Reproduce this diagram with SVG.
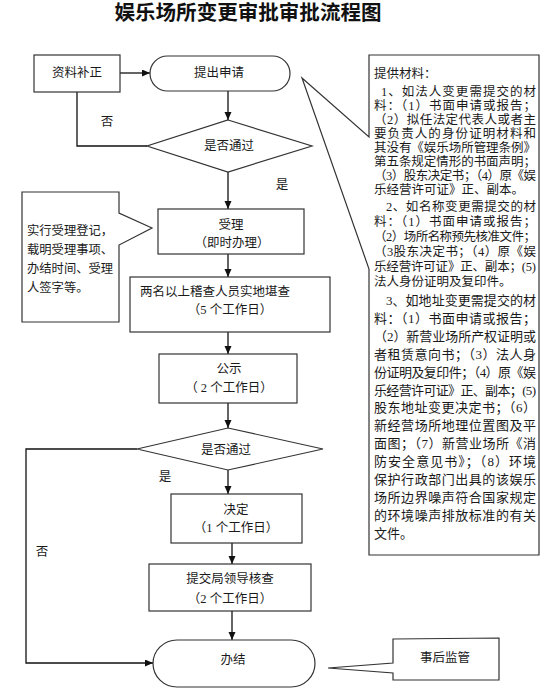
<svg xmlns="http://www.w3.org/2000/svg" width="555" height="692" viewBox="0 0 555 692">
<defs>
<marker id="arr" markerWidth="9" markerHeight="8" refX="8" refY="3.5" orient="auto" markerUnits="userSpaceOnUse">
<path d="M0,0 L8,3.5 L0,7 z" fill="#111"/>
</marker>
</defs>
<style>
.box{fill:#fff;stroke:#333;stroke-width:1.2}
.ln{fill:none;stroke:#111;stroke-width:1.3}
.ar{marker-end:url(#arr)}
text{font-family:"Liberation Serif","Noto Sans CJK SC",serif;fill:#1a1a1a;dominant-baseline:central}
.t{font-size:12.5px;text-anchor:middle}
.l{font-size:12.5px}
.l3{font-size:13px}
.m{font-size:12.3px}
.title{font-size:20.5px;font-weight:bold;text-anchor:middle;fill:#111}
</style>
<rect width="555" height="692" fill="#fff"/>
<text class="title" x="248" y="13" textLength="267" lengthAdjust="spacingAndGlyphs">娱乐场所变更审批审批流程图</text>

<g id="connectors">
<path class="ln ar" d="M120,73 H150"/>
<path class="ln ar" d="M228,91 V120"/>
<path class="ln" d="M77,92 V146 H147"/>
<path class="ln ar" d="M228,172 V209"/>
<path class="ln ar" d="M228,254 V277"/>
<path class="ln ar" d="M228,332 V354"/>
<path class="ln ar" d="M228,403 V428"/>
<path class="ln ar" d="M228,470 V494"/>
<path class="ln ar" d="M232,543 V564"/>
<path class="ln ar" d="M232,611 V640"/>
<path class="ln ar" d="M137,449 H26 V663 H153"/>
<text class="t" x="107" y="122">否</text>
<text class="t" x="282" y="185">是</text>
<text class="t" x="165" y="477">是</text>
<text class="t" x="42" y="552">否</text>
</g>

<g id="n-supplement">
<rect class="box" x="34" y="55" width="86" height="37"/>
<text class="t" x="77" y="73">资料补正</text>
</g>
<g id="n-apply">
<rect class="box" x="150" y="56" width="140" height="35" rx="17.5"/>
<text class="t" x="219" y="73">提出申请</text>
</g>
<g id="n-check1">
<polygon class="box" points="228,120 312,146 228,172 147,146"/>
<text class="t" x="229" y="146">是否通过</text>
</g>
<g id="n-accept">
<rect class="box" x="158" y="209" width="146" height="45"/>
<text class="t" x="231" y="225">受理</text>
<text class="t" x="232" y="243">（即时办理）</text>
</g>
<g id="n-note-accept">
<polygon class="box" points="22,192 119,192 119,213 152,228 119,245 119,322 22,322"/>
<text class="m" x="27" y="231">实行受理登记，</text>
<text class="m" x="27" y="250">载明受理事项、</text>
<text class="m" x="27" y="269">办结时间、受理</text>
<text class="m" x="27" y="288">人签字等。</text>
</g>
<g id="n-inspect">
<rect class="box" x="130" y="277" width="200" height="55"/>
<text class="l" x="140" y="292">两名以上稽查人员实地堪查</text>
<text class="t" x="230" y="310">（5 个工作日）</text>
</g>
<g id="n-publish">
<rect class="box" x="159" y="354" width="138" height="49"/>
<text class="t" x="229" y="369">公示</text>
<text class="t" x="229" y="388">（  2 个工作日）</text>
</g>
<g id="n-check2">
<polygon class="box" points="228,428 323,449 228,470 137,449"/>
<text class="t" x="226" y="450">是否通过</text>
</g>
<g id="n-decide">
<rect class="box" x="171" y="494" width="131" height="49"/>
<text class="t" x="236" y="510">决定</text>
<text class="t" x="236" y="528">（1 个工作日）</text>
</g>
<g id="n-review">
<rect class="box" x="149" y="564" width="162" height="47"/>
<text class="t" x="230" y="579">提交局领导核查</text>
<text class="t" x="230" y="599">（2 个工作日）</text>
</g>
<g id="n-finish">
<rect class="box" x="153" y="640" width="162" height="47" rx="24" ry="23.5"/>
<text class="t" x="233" y="660">办结</text>
</g>
<g id="n-supervise">
<polygon class="box" points="393,639 499,638 499,680 393,680 393,673 328,668 393,663"/>
<text class="t" x="445" y="658">事后监管</text>
</g>
<g id="n-materials">
<polygon class="box" points="369,55 539,55 539,555 369,555 369,269 302,78 369,137"/>
<g class="l">
<text x="374" y="74">提供材料：</text>
<text x="381" y="92" textLength="155">1、如法人变更需提交的材</text>
<text x="374" y="106" textLength="162">料：（1）书面申请或报告；</text>
<text x="374" y="120" textLength="162">（2）拟任法定代表人或者主</text>
<text x="374" y="134" textLength="162">要负责人的身份证明材料和</text>
<text x="374" y="148" textLength="162">其没有《娱乐场所管理条例》</text>
<text x="374" y="162" textLength="162">第五条规定情形的书面声明；</text>
<text x="374" y="176" textLength="162">（3）股东决定书；（4）原《娱</text>
<text x="374" y="190">乐经营许可证》正、副本。</text>
<text x="386" y="207" textLength="150">2、如名称变更需提交的材</text>
<text x="374" y="222" textLength="162">料：（1）书面申请或报告；</text>
<text x="374" y="237" textLength="162">（2）场所名称预先核准文件；</text>
<text x="374" y="252" textLength="162">（3股东决定书；（4）原《娱</text>
<text x="374" y="267" textLength="162">乐经营许可证》正、副本；(5)</text>
<text x="374" y="282">法人身份证明及复印件。</text>
</g>
<g class="l3">
<text x="386" y="300" textLength="150">3、如地址变更需提交的材</text>
<text x="374" y="318" textLength="162">料：（1）书面申请或报告；</text>
<text x="374" y="336" textLength="162">（2）新营业场所产权证明或</text>
<text x="374" y="354" textLength="162">者租赁意向书；（3）法人身</text>
<text x="374" y="372" textLength="162">份证明及复印件；（4）原《娱</text>
<text x="374" y="390" textLength="162">乐经营许可证》正、副本；(5)</text>
<text x="374" y="407" textLength="162">股东地址变更决定书；（6）</text>
<text x="374" y="425" textLength="162">新经营场所地理位置图及平</text>
<text x="374" y="443" textLength="162">面图；（7）新营业场所《消</text>
<text x="374" y="461" textLength="162">防安全意见书》；（8）环境</text>
<text x="374" y="479" textLength="162">保护行政部门出具的该娱乐</text>
<text x="374" y="497" textLength="162">场所边界噪声符合国家规定</text>
<text x="374" y="515" textLength="162">的环境噪声排放标准的有关</text>
<text x="374" y="533">文件。</text>
</g>
</g>
</svg>
